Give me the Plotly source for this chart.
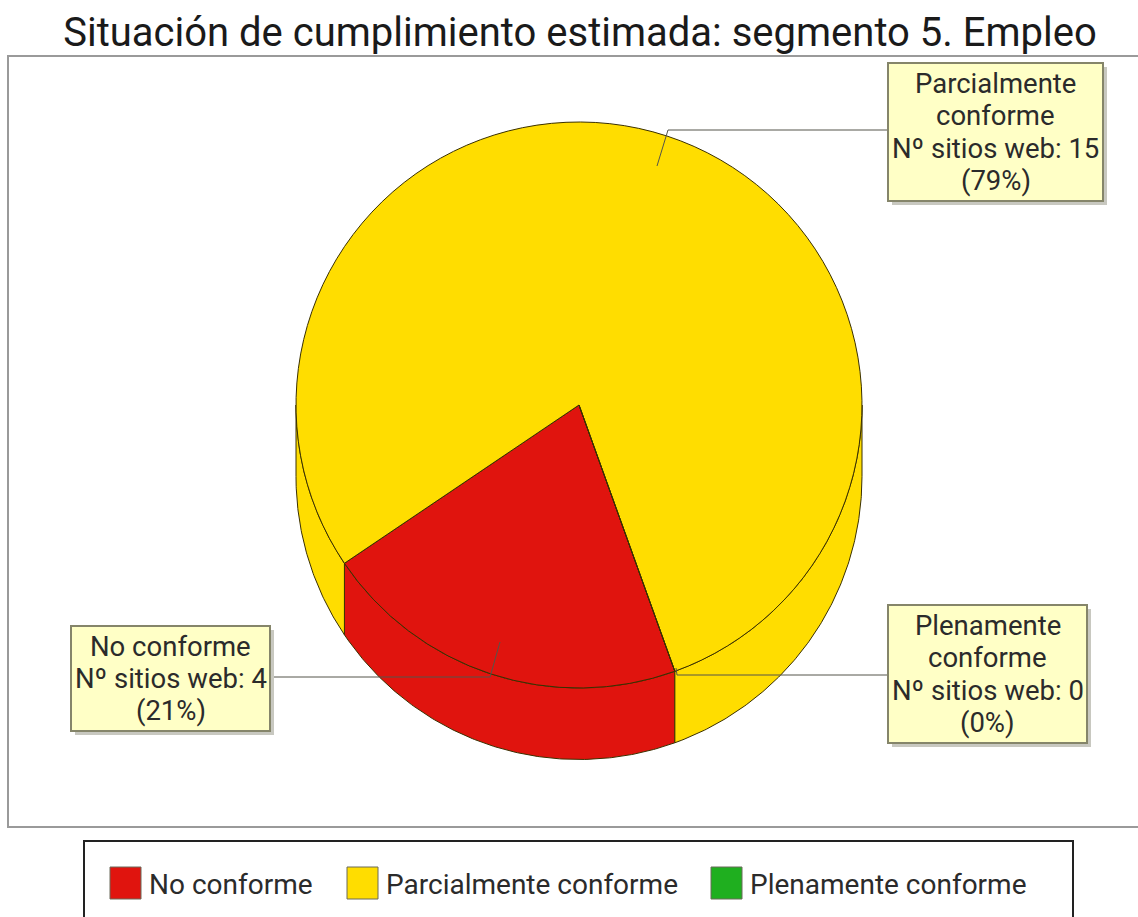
import math
import plotly.graph_objects as go

TITLE = "Situación de cumplimiento estimada: segmento 5. Empleo"
categories = ["No conforme", "Parcialmente conforme", "Plenamente conforme"]
values = [4, 15, 0]
colors = ["#E0140E", "#FFDD00", "#1FAF1F"]
label_lines = [
    ["No conforme"],
    ["Parcialmente", "conforme"],
    ["Plenamente", "conforme"],
]

W, H = 1138, 917
FONT = "Roboto"
TEXT = "#2b2b2b"
EDGE = "#3a3000"
cx, cy, r, depth = 579, 405, 283, 71.5
rotation = 160.2

total = sum(values)

# Depth band of the pie, derived from the values
fig = go.Figure()
start = rotation
for val, col in zip(values, colors):
    end = start + val / total * 360
    for lo, hi in ((90, 270), (450, 630)):
        a, b = max(start, lo), min(end, hi)
        if b <= a:
            continue
        n = max(2, int(b - a) * 2)
        th = [math.radians(a + (b - a) * i / n) for i in range(n + 1)]
        xs = [cx + r * math.sin(t) for t in th]
        ys = [cy - r * math.cos(t) + depth for t in th]
        xs += [cx + r * math.sin(t) for t in reversed(th)]
        ys += [cy - r * math.cos(t) for t in reversed(th)]
        xs.append(xs[0])
        ys.append(ys[0])
        fig.add_trace(go.Scatter(x=xs, y=ys, mode="lines", fill="toself", fillcolor=col,
                                 line=dict(color=EDGE, width=1), hoverinfo="skip", showlegend=False))
    start = end

# Top face
fig.add_trace(go.Pie(
    labels=categories, values=values, sort=False, direction="clockwise", rotation=rotation,
    marker=dict(colors=colors, line=dict(color=EDGE, width=1)),
    textinfo="none", showlegend=False,
    domain=dict(x=[(cx - r) / W, (cx + r) / W], y=[1 - (cy + r) / H, 1 - (cy - r) / H]),
))

shapes = []
annotations = []


def line(pts, color="#55554a"):
    for (x0, y0), (x1, y1) in zip(pts, pts[1:]):
        shapes.append(dict(type="line", xref="x", yref="y", x0=x0, y0=y0, x1=x1, y1=y1,
                           line=dict(color=color, width=1), layer="above"))


# Plot frame
shapes.append(dict(type="rect", xref="x", yref="y", x0=8, y0=56, x1=1150, y1=827,
                   line=dict(color="#9a9a9a", width=2), layer="below"))

# Callouts: box left, top, right, bottom
boxes = [(71, 626, 270, 731), (888, 63, 1103, 201), (888, 605, 1087, 743)]
leaders = [
    [(270, 677), (490, 677), (500, 642)],
    [(888, 130), (668, 130), (657, 166)],
    [(888, 675), (677, 675), (676, 668)],
]
for i, (x0, y0, x1, y1) in enumerate(boxes):
    line(leaders[i])
    shapes.append(dict(type="rect", xref="x", yref="y", x0=x0 + 4, y0=y0 + 4, x1=x1 + 4, y1=y1 + 4,
                       fillcolor="#c8c8c0", line=dict(width=0), layer="above"))
    shapes.append(dict(type="rect", xref="x", yref="y", x0=x0, y0=y0, x1=x1, y1=y1,
                       fillcolor="#FFFFC6", line=dict(color="#85856a", width=2), layer="above"))
    pct = round(values[i] / total * 100)
    lines = label_lines[i] + [f"Nº sitios web: {values[i]}", f"({pct}%)"]
    step = (y1 - y0 - 8) / len(lines)
    for k, t in enumerate(lines):
        annotations.append(dict(x=(x0 + x1) / 2, y=y0 + 4 + step * (k + 0.5), xref="x", yref="y", text=t,
                                showarrow=False, xanchor="center", yanchor="middle",
                                font=dict(family=FONT, size=27.5, color=TEXT)))

# Legend
shapes.append(dict(type="rect", xref="x", yref="y", x0=84, y0=841, x1=1073, y1=940,
                   line=dict(color="#222222", width=2), layer="above"))
swatch_x = [110, 347, 711]
for sx, col, name in zip(swatch_x, colors, categories):
    shapes.append(dict(type="rect", xref="x", yref="y", x0=sx, y0=867, x1=sx + 31, y1=899,
                       fillcolor=col, line=dict(color="#6b6b5a", width=1), layer="above"))
    annotations.append(dict(x=sx + 36.5, y=884, xref="x", yref="y", text=name, showarrow=False,
                            xanchor="left", yanchor="middle",
                            font=dict(family=FONT, size=28, color=TEXT)))

fig.update_layout(
    width=W, height=H, margin=dict(l=0, r=0, t=0, b=0),
    paper_bgcolor="white", plot_bgcolor="white", showlegend=False,
    title=dict(text=TITLE, x=580 / W, y=1 - 32 / H, xanchor="center", yanchor="middle",
               xref="paper", yref="paper", font=dict(family=FONT, size=40, color="#1a1a1a")),
    xaxis=dict(range=[0, W], visible=False, fixedrange=True),
    yaxis=dict(range=[H, 0], visible=False, fixedrange=True),
    shapes=shapes, annotations=annotations,
)
fig.write_html("out.html", post_script="document.body.style.margin='0';",
               config=dict(displayModeBar=False))
